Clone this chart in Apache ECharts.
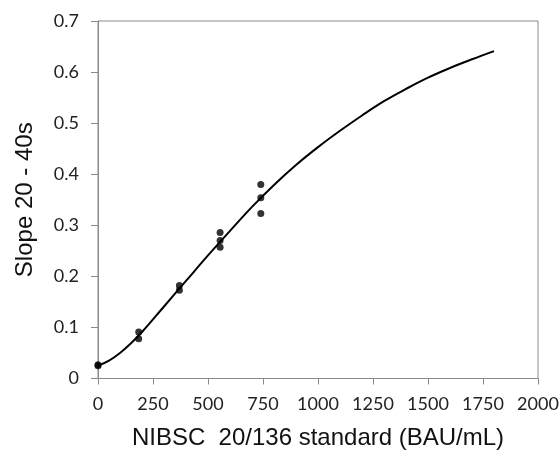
<!DOCTYPE html>
<html>
<head>
<meta charset="utf-8">
<script src="https://cdn.jsdelivr.net/npm/echarts@6/dist/echarts.min.js"></script>
<style>html,body{margin:0;padding:0;background:#fff}#c{width:560px;height:452px}</style>
</head>
<body>
<div id="c"></div>
<script>
// Measured points (x = BAU/mL, y = slope)
var pointX = [0, 0, 185, 185, 370, 370, 555, 555, 555, 740, 740, 740];
var pointY = [0.025, 0.027, 0.091, 0.078, 0.182, 0.173, 0.286, 0.270, 0.257, 0.380, 0.354, 0.323];
// Fitted curve
var curveX = [0, 50, 100, 150, 200, 300, 400, 500, 600, 700, 800, 900, 1000, 1100, 1200, 1300, 1400, 1500, 1600, 1700, 1800];
var curveY = [0.025, 0.035, 0.050, 0.069, 0.091, 0.141, 0.191, 0.241, 0.289, 0.336, 0.379, 0.418, 0.453, 0.485, 0.515, 0.543, 0.567, 0.589, 0.608, 0.625, 0.641];
var xTitle = 'NIBSC  20/136 standard (BAU/mL)';
var yTitle = 'Slope 20 - 40s';

var chart = echarts.init(document.getElementById('c'), null, {renderer: 'canvas'});
var axisGray = '#8a8a8a';
chart.setOption({
  animation: false,
  backgroundColor: '#ffffff',
  grid: {left: 98, right: 22, top: 21, bottom: 73.5, show: true, borderColor: axisGray, borderWidth: 1,
    containLabel: false, outerBoundsMode: 'none'},
  xAxis: {
    type: 'value', min: 0, max: 2000, interval: 250,
    name: xTitle, nameLocation: 'middle', nameGap: 48,
    nameTextStyle: {fontFamily: 'Liberation Sans', fontSize: 24, color: '#111'},
    axisLine: {show: true, lineStyle: {color: axisGray, width: 1}},
    axisTick: {show: true, length: 6, lineStyle: {color: axisGray}},
    axisLabel: {fontFamily: 'Lato', fontSize: 18, color: '#222', margin: 17,
      formatter: function (v) { return String(v); }},
    splitLine: {show: false}
  },
  yAxis: {
    type: 'value', min: 0, max: 0.7, interval: 0.1,
    name: yTitle, nameLocation: 'middle', nameGap: 61, nameRotate: 90,
    nameTextStyle: {fontFamily: 'Liberation Sans', fontSize: 24, color: '#111'},
    axisLine: {show: true, lineStyle: {color: axisGray, width: 1}},
    axisTick: {show: true, length: 7, lineStyle: {color: axisGray}},
    axisLabel: {fontFamily: 'Lato', fontSize: 18, color: '#222', margin: 19,
      formatter: function (v) { return v === 0 ? '0' : v.toFixed(1); }},
    splitLine: {show: false}
  },
  series: [
    {
      type: 'line', smooth: 0.4, showSymbol: false,
      data: curveX.map(function (x, i) { return [x, curveY[i]]; }),
      lineStyle: {color: '#000', width: 2}, z: 2
    },
    {
      type: 'scatter', symbol: 'circle', symbolSize: 7,
      data: pointX.map(function (x, i) { return [x, pointY[i]]; }),
      itemStyle: {color: '#000'}, z: 3
    }
  ]
});
</script>
</body>
</html>
